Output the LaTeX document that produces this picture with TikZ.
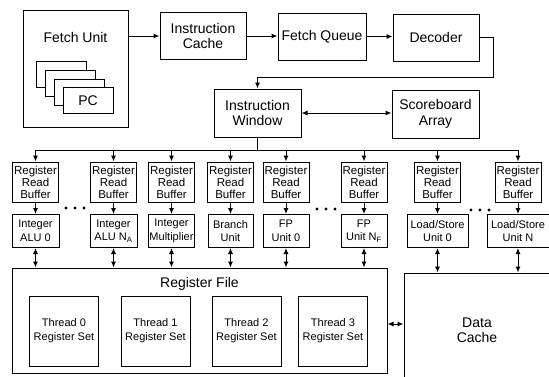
\documentclass[tikz,border=0pt]{standalone}
\usepackage{fontspec}
\setmainfont{Liberation Sans}
\usetikzlibrary{arrows.meta, positioning}

\begin{document}
\begin{tikzpicture}[x=1pt, y=-1pt,
        box/.style={rectangle, draw, line width=1pt, align=center, inner sep=1pt, font=\fontsize{14}{15.5}\selectfont},
        rrbox/.style={box, minimum width=46pt, minimum height=40pt, font=\fontsize{11.5}{12}\selectfont},
        fubox/.style={box, minimum height=33pt, font=\fontsize{11}{13.5}\selectfont},
        regset/.style={box, minimum width=69pt, minimum height=70pt, font=\fontsize{11}{14}\selectfont},
        arrow/.style={-{Latex[length=6pt,width=5pt]}, line width=1pt},
        biarrow/.style={{Latex[length=6pt,width=5pt]}-{Latex[length=6pt,width=5pt]}, line width=1pt}
    ]
        \useasboundingbox (0,0) rectangle (549,376);

        % Front end
        \node (fetchunit) [box, minimum width=105pt, minimum height=117pt] at (75.5,68.5) {};
        \node (fetchtitle) [box, draw=none] at ([yshift=-28pt]fetchunit.north) {Fetch Unit};
        \foreach \i in {0,1,2}
            \draw [line width=1pt, fill=white] (36+9*\i,61+9*\i) rectangle ++(50,26);
        \node (pc) [box, fill=white, minimum width=50pt, minimum height=26pt] at (88,100.5) {PC};

        \node (icache) [box, minimum width=86pt, minimum height=47pt] at (203,36) {Instruction\\Cache};
        \node (fqueue) [box, minimum width=88pt, minimum height=47pt] at (322,36.5) {Fetch Queue};
        \node (decoder) [box, minimum width=86pt, minimum height=47pt] at (436,37.5) {Decoder};

        \node (iwin) [box, minimum width=87pt, minimum height=48pt] at (257.5,113) {Instruction\\Window};
        \node (sboard) [box, minimum width=87pt, minimum height=48pt] at (435.5,114) {Scoreboard\\Array};

        \draw [arrow] (fetchunit.east |- icache.west) -- (icache.west);
        \draw [arrow] (icache) -- (icache -| fqueue.west);
        \draw [arrow] (fqueue) -- (fqueue -| decoder.west);
        \coordinate (turn) at (493,77);
        \draw [arrow] (decoder.east) -| (turn) -| (iwin.north);
        \draw [biarrow] (iwin.east) -- (iwin.east -| sboard.west);

        % Register read buffers and functional units
        \foreach \i/\x in {1/35.5, 2/113.5, 3/171.5, 4/230.5, 5/286, 6/364, 7/437.5, 8/518}
            \node (rrb\i) [rrbox] at (\x,182) {Register\\Read\\Buffer};

        \foreach \i/\x/\w/\txt in {1/35.5/47/{Integer\\ALU 0}, 2/113.5/47/{Integer\\ALU N\textsubscript{A}},
                3/171.5/46/{Integer\\Multiplier}, 4/230.5/45/{Branch\\Unit}, 5/286/46/{FP\\Unit 0},
                6/364/46/{FP\\Unit N\textsubscript{F}}, 7/437.5/61/{Load/Store\\Unit 0}, 8/518/62/{Load/Store\\Unit N}}
            \node (fu\i) [fubox, minimum width=\w pt] at (\x,231) {\txt};

        \coordinate (bus) at (0,150);
        \draw [line width=1pt] (iwin.south) -- (iwin.south |- bus);
        \draw [line width=1pt] (rrb1.north |- bus) -- (rrb8.north |- bus);
        \foreach \i in {1,...,8} {
            \draw [arrow] (rrb\i.north |- bus) -- (rrb\i.north);
            \draw [arrow] (rrb\i.south) -- (fu\i.north);
        }

        \foreach \x/\y in {75/208, 326/209, 480/210}
            \foreach \d in {-9,0,9}
                \fill (\x+\d,\y) circle (1.7pt);

        % Register file and data cache
        \node (regfile) [box, minimum width=375pt, minimum height=105pt] at (199.5,320.5) {};
        \node (regtitle) [box, draw=none] at ([yshift=-16pt]regfile.north) {Register File};
        \foreach \i/\x in {0/64, 1/155.5, 2/246.5, 3/333}
            \node (thread\i) [regset] at (\x,331) {Thread \i\\Register Set};

        \node (dcache) [box, minimum width=146pt, minimum height=114pt] at (477,330) {Data\\Cache};

        \foreach \i in {1,...,6}
            \draw [biarrow] (fu\i.south) -- (fu\i.south |- regfile.north);
        \foreach \i in {7,8}
            \draw [biarrow] (fu\i.south) -- (fu\i.south |- dcache.north);
        \draw [biarrow] (regfile.east |- 0,324) -- (dcache.west |- 0,324);
    \end{tikzpicture}
\end{document}
